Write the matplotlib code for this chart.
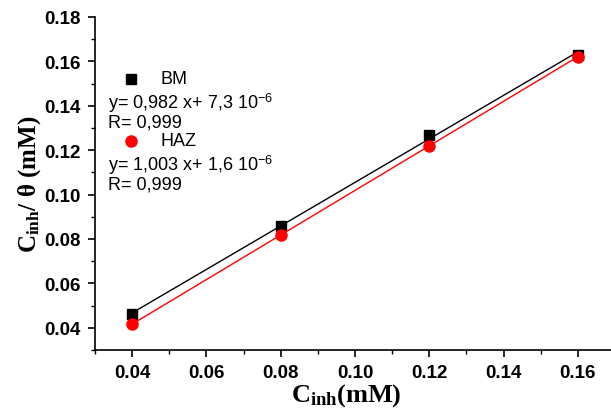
import matplotlib
matplotlib.use("Agg")
import matplotlib.pyplot as plt
import numpy as np
from matplotlib.ticker import MultipleLocator

plt.rcParams["mathtext.fontset"] = "custom"
plt.rcParams["mathtext.rm"] = "Liberation Serif:bold"
plt.rcParams["mathtext.it"] = "Liberation Serif:bold"
plt.rcParams["mathtext.bf"] = "Liberation Serif:bold"
plt.rcParams["mathtext.sf"] = "Liberation Sans"

# Inhibitor concentration (mM) and C/theta values for each zone
c_inh = np.array([0.04, 0.08, 0.12, 0.16])
bm_values = np.array([0.046, 0.086, 0.127, 0.163])
haz_values = np.array([0.0415, 0.082, 0.122, 0.162])

series_names = ["BM", "HAZ"]
fit_text = [
    ("y= 0,982 x+ 7,3 10$^{\\mathsf{-6}}$", "R= 0,999"),
    ("y= 1,003 x+ 1,6 10$^{\\mathsf{-6}}$", "R= 0,999"),
]

W, H = 611, 410
fig = plt.figure(figsize=(W / 100, H / 100), dpi=100)
ax = fig.add_axes([95 / W, 1 - 351 / H, 520 / W, 333 / H])

for values, color, marker in [(bm_values, "black", "s"), (haz_values, "red", "o")]:
    slope, intercept = np.polyfit(c_inh, values, 1)
    ax.plot(c_inh, slope * c_inh + intercept, color=color, lw=1.0)
    ax.plot(c_inh, values, linestyle="none", marker=marker, color=color,
            markersize=7 if marker == "s" else 8)

ax.set_xlim(0.03, 0.17)
ax.set_ylim(0.03, 0.18)
ax.xaxis.set_major_locator(MultipleLocator(0.02))
ax.xaxis.set_minor_locator(MultipleLocator(0.01))
ax.yaxis.set_major_locator(MultipleLocator(0.02))
ax.yaxis.set_minor_locator(MultipleLocator(0.01))
ax.xaxis.set_major_formatter(plt.FormatStrFormatter("%.2f"))
ax.yaxis.set_major_formatter(plt.FormatStrFormatter("%.2f"))
ax.set_xticks([0.04, 0.06, 0.08, 0.10, 0.12, 0.14, 0.16])

ax.spines["top"].set_visible(False)
ax.spines["right"].set_visible(False)
ax.spines["left"].set_linewidth(1.2)
ax.spines["bottom"].set_linewidth(1.2)
ax.tick_params(which="major", direction="out", length=5, width=1.2, pad=5)
ax.tick_params(which="minor", direction="out", length=3, width=1.0)
for lbl in ax.get_xticklabels() + ax.get_yticklabels():
    lbl.set_fontfamily("Liberation Sans")
    lbl.set_fontweight("bold")
    lbl.set_fontsize(13.5)

fig.text(346 / W, 1 - 396 / H, "$C_{inh}$(mM)", ha="center", va="center",
         fontfamily="Liberation Serif", fontweight="bold", fontsize=19)
fig.text(30 / W, 1 - 184 / H, "$C_{inh}$/ θ (mM)", ha="center", va="center",
         rotation=90, fontfamily="Liberation Serif", fontweight="bold", fontsize=18)

# Legend block with fit equations
marker_x = 131 / W
for i, (name, (eq, r_text)) in enumerate(zip(series_names, fit_text)):
    top = 80 + i * 62
    color = "black" if i == 0 else "red"
    marker = "s" if i == 0 else "o"
    ax.plot([marker_x], [1 - top / H], transform=fig.transFigure, marker=marker,
            color=color, markersize=7 if i == 0 else 8, clip_on=False)
    fig.text(160 / W, 1 - top / H, name, va="center",
             fontfamily="Liberation Sans", fontsize=13)
    fig.text(108 / W, 1 - (top + 23) / H, eq, va="center",
             fontfamily="Liberation Sans", fontsize=13)
    fig.text(108 / W, 1 - (top + 43) / H, r_text, va="center",
             fontfamily="Liberation Sans", fontsize=13)

fig.savefig("out.png", dpi=100)
